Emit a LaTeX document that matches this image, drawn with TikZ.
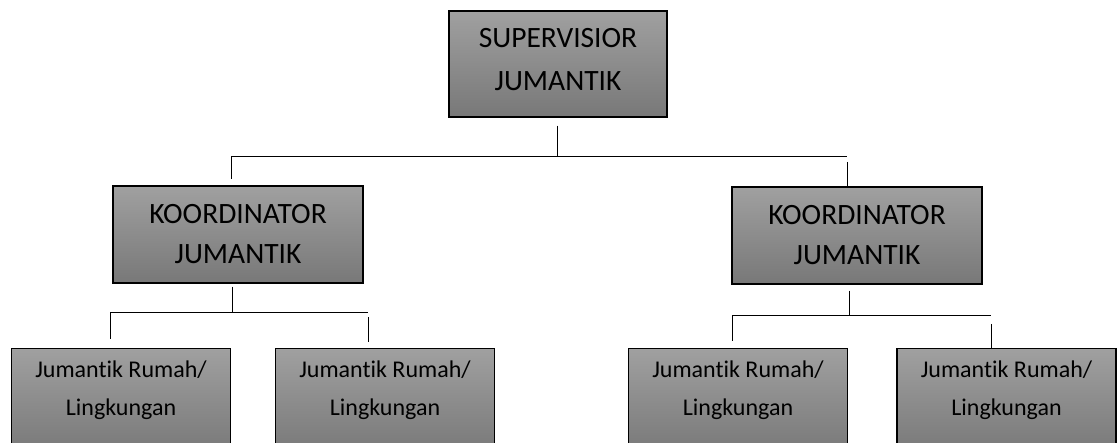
\documentclass[tikz,border=0pt]{standalone}
\usepackage{fontspec}
\setmainfont{Carlito}[RawFeature=-liga]
\definecolor{boxtop}{RGB}{160,160,160}
\definecolor{boxbot}{RGB}{120,120,120}
\tikzstyle{shade} = [draw=black, line width=1.1pt, top color=boxtop, bottom color=boxbot, inner sep=0pt]
\tikzstyle{head} = [shade, align=center, minimum width=218pt, minimum height=106pt, font={\fontsize{29.5}{43}\selectfont}]
\tikzstyle{koor} = [head, minimum width=250pt, minimum height=97pt, font={\fontsize{29.5}{40}\selectfont}]
\tikzstyle{leaf} = [shade, anchor=north]
\tikzstyle{conn} = [draw=black, line width=1pt]
\newcommand{\leaftext}[1]{\parbox[t][106pt][t]{219pt}{\centering\fontsize{24}{38}\selectfont\rule{0pt}{29pt}#1}}

\begin{document}
\begin{tikzpicture}[x=1pt,y=-1pt]
    \useasboundingbox (0,0) rectangle (1119,443);
    \clip (0,0) rectangle (1119,443);
    \node[head,text depth=10pt](sup) at (558,64){SUPERVISIOR\\JUMANTIK};
    \node[koor](kl) at (238,234.5){KOORDINATOR\\JUMANTIK};
    \node[koor](kr) at (857,235.5){KOORDINATOR\\JUMANTIK};
    \node[leaf](l1) at (121,348){\leaftext{Jumantik Rumah/\\Lingkungan}};
    \node[leaf](l2) at (385,348){\leaftext{Jumantik Rumah/\\Lingkungan}};
    \node[leaf](l3) at (738,348){\leaftext{Jumantik Rumah/\\Lingkungan}};
    \node[leaf](l4) at (1006.5,348){\leaftext{Jumantik Rumah/\\Lingkungan}};
    % junctions of the bars
    \coordinate (j0) at (557,157);
    \coordinate (jl) at (231,157);
    \coordinate (jr) at (847,157);
    \coordinate (k1) at (232,313);
    \coordinate (b1l) at (110,313);
    \coordinate (b1r) at (368,313);
    \coordinate (k2) at (849,316);
    \coordinate (b2l) at (732,316);
    \coordinate (b2r) at (991,316);
    \draw[conn]([xshift=-1pt,yshift=-8pt]sup.south)--(j0);
    \draw[conn](jl)--(jr);
    \draw[conn](jl)--([xshift=-7pt,yshift=6pt]kl.north);
    \draw[conn]([yshift=-5pt]jr)--([xshift=-10pt]kr.north);
    \draw[conn]([xshift=-6pt,yshift=-3pt]kl.south)--(k1);
    \draw[conn](b1l)--(b1r);
    \draw[conn](b1l)--([xshift=-11pt,yshift=9pt]l1.north);
    \draw[conn]([yshift=-4pt]b1r)--([xshift=-17pt,yshift=6pt]l2.north);
    \draw[conn]([xshift=-8pt,yshift=-6pt]kr.south)--(k2);
    \draw[conn](b2l)--(b2r);
    \draw[conn](b2l)--([xshift=-6pt,yshift=7pt]l3.north);
    \draw[conn]([yshift=-8pt]b2r)--([xshift=-15.5pt]l4.north);
\end{tikzpicture}
\end{document}
